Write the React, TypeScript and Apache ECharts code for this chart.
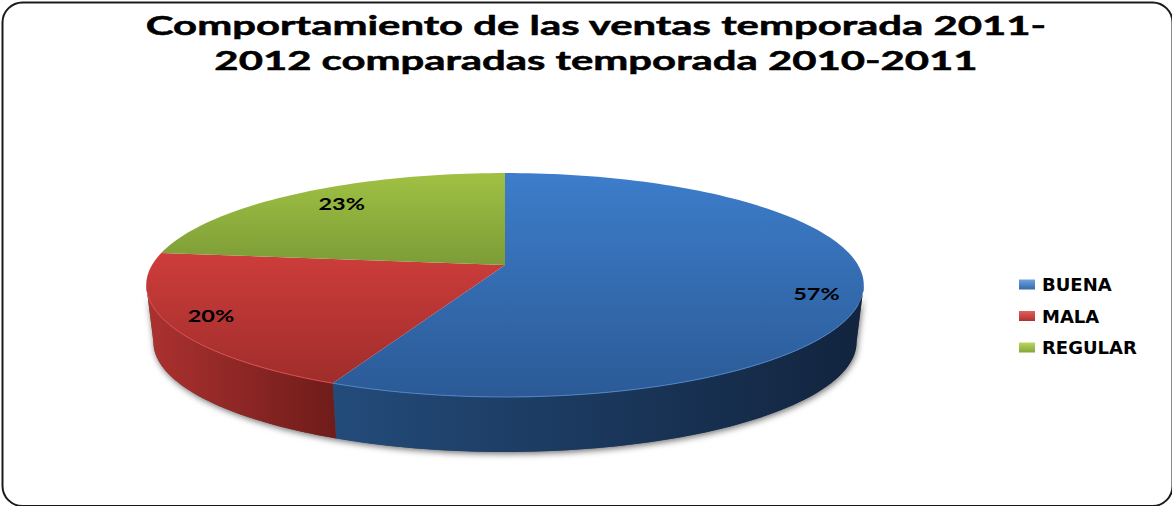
import React, { useEffect, useRef } from "react";
import * as echarts from "echarts";

const TITLE = "Comportamiento de las ventas temporada 2011-\n2012 comparadas temporada 2010-2011";
const CATEGORIES = ["BUENA", "MALA", "REGULAR"];
const VALUES = [56.7, 20.1, 23.2];
const BASE_COLORS = ["#3a76bd", "#c23a38", "#93b43f"];
const TOP_STOPS = [["#3d7dcb", "#2b5a96"], ["#cd3d3b", "#9f2d2b"], ["#a0c143", "#7c9c37"]];
const WALL_STOPS = [["#234b7a", "#12243e"], ["#ab312f", "#6e1c1a"], ["#7c9c37", "#7c9c37"]];
const RIM_COLORS = ["#4f86c6", "#d9504e", "#a8c450"];
const LEGEND_STOPS = [["#6da3e0", "#3568a8"], ["#e0605e", "#b03230"], ["#b8d860", "#86a638"]];

// Projection of the unit disc
const APEX_X = 505, APEX_Y = 265, SCALE_U = 353, SCALE_V = 108.4, PERSP = 0.1786;
const TANGENT_R = 100.3, TANGENT_L = 259.7;
const project = (deg: number, f = 1) => {
  const a = (deg * Math.PI) / 180;
  const u = Math.sin(a) * f, v = -Math.cos(a) * f, w = 1 - PERSP * v;
  return [(SCALE_U * u) / w, (SCALE_V * v) / w];
};
const top = (deg: number, f = 1) => {
  const [x, y] = project(deg, f);
  return [APEX_X + x, APEX_Y + y];
};
const bottom = (deg: number) => {
  const [x, y] = project(deg);
  return [APEX_X + x * 0.98, APEX_Y + y * 0.982 + 57.4];
};
const arc = (from: number, to: number, fn: (d: number) => number[]) => {
  const out: number[][] = [];
  const n = Math.max(2, Math.ceil(Math.abs(to - from) / 1.5));
  for (let i = 0; i <= n; i++) out.push(fn(from + ((to - from) * i) / n));
  return out;
};
const total = VALUES.reduce((s, v) => s + v, 0);
const startOf = (idx: number) => (VALUES.slice(0, idx).reduce((s, v) => s + v, 0) / total) * 360;
const LABEL_DX = [1, -5, 20];
const LABEL_DY = [8, 0, 1];
const grad = (x0: number, y0: number, x1: number, y1: number, c: string[]) =>
  new echarts.graphic.LinearGradient(x0, y0, x1, y1, [{ offset: 0, color: c[0] }, { offset: 1, color: c[1] }], true);

const renderSlice = (params: any, api: any) => {
  const i = params.seriesIndex;
  const value = api.value(0);
  const start = startOf(i);
  const end = start + (value / total) * 360;
  const children: any[] = [];
  if (i === 0) {
    const sil = [...arc(TANGENT_R, TANGENT_L, top), ...arc(TANGENT_L, TANGENT_R, bottom)];
    children.push({
      type: "polygon",
      shape: { points: sil },
      style: { fill: "#555", shadowBlur: 6, shadowColor: "rgba(0,0,0,0.55)", shadowOffsetY: 2, shadowOffsetX: 1 },
    });
  }
  const ws = Math.max(start, TANGENT_R), we = Math.min(end, TANGENT_L);
  if (we > ws) {
    const poly = [...arc(ws, we, top), ...arc(we, ws, bottom)];
    const wall = i === 1 ? grad(150, 0, 336, 0, WALL_STOPS[i]) : grad(336, 0, 860, 0, WALL_STOPS[i]);
    children.push({ type: "polygon", shape: { points: poly }, style: { fill: wall } });
  }
  const surface = [[APEX_X, APEX_Y], ...arc(start, end, top)];
  const yMin = Math.min(...surface.map((p) => p[1]));
  const yMax = Math.max(...surface.map((p) => p[1]));
  children.push({
    type: "polygon",
    shape: { points: surface },
    style: { fill: grad(0, yMin, 0, yMax, TOP_STOPS[i]) },
  });
  if (we > ws) {
    children.push({
      type: "polyline",
      shape: { points: arc(Math.max(start, 110), Math.min(end, 255), top) },
      style: { stroke: RIM_COLORS[i], lineWidth: 1, fill: "none" },
    });
  }
  const [lx, ly] = top((start + end) / 2, 0.87);
  children.push({
    type: "text",
    x: lx + LABEL_DX[i],
    y: ly + LABEL_DY[i],
    scaleX: 1.38,
    style: {
      text: `${Math.round((value / total) * 100)}%`,
      fill: "#000",
      font: "bold 17px Lato",
      textAlign: "center",
      textVerticalAlign: "middle",
    },
  });
  return { type: "group", children };
};

export default function App() {
  const ref = useRef<HTMLDivElement>(null);
  useEffect(() => {
    document.body.style.margin = "0";
    const chart = echarts.init(ref.current!, null, { renderer: "svg" });
    chart.setOption({
      animation: false,
      backgroundColor: "#fff",
      legend: {
        orient: "vertical",
        left: 1019,
        top: 275.5,
        padding: 0,
        itemWidth: 16,
        itemHeight: 10,
        itemGap: 13.5,
        icon: "rect",
        data: CATEGORIES.map((name, i) => ({
          name,
          itemStyle: {
            color: new echarts.graphic.LinearGradient(0, 0, 0, 1, [
              { offset: 0, color: LEGEND_STOPS[i][0] },
              { offset: 1, color: LEGEND_STOPS[i][1] },
            ]),
          },
        })),
        textStyle: { fontFamily: "DejaVu Sans", fontWeight: "bold", fontSize: 18, color: "#000", padding: [0, 0, 0, 2] },
      },
      graphic: [
        {
          type: "rect",
          silent: true,
          z: -1,
          shape: { x: 2.5, y: 2.5, width: 1170, height: 503.5, r: 20 },
          style: { fill: "none", stroke: "#1a1a1a", lineWidth: 2 },
        },
        {
          type: "text",
          silent: true,
          x: 596,
          y: 7,
          scaleX: 1.61,
          style: {
            text: TITLE,
            fill: "#000",
            stroke: "#000",
            lineWidth: 0.5,
            font: "bold 26px Lato",
            lineHeight: 35,
            textAlign: "center",
            textVerticalAlign: "top",
          },
        },
      ],
      series: CATEGORIES.map((name, i) => ({
        type: "custom",
        name,
        coordinateSystem: "none",
        renderItem: renderSlice,
        data: [VALUES[i]],
        silent: true,
        itemStyle: { color: BASE_COLORS[i] },
      })),
    });
    return () => chart.dispose();
  }, []);
  return <div ref={ref} style={{ width: 1172, height: 506 }} />;
}
